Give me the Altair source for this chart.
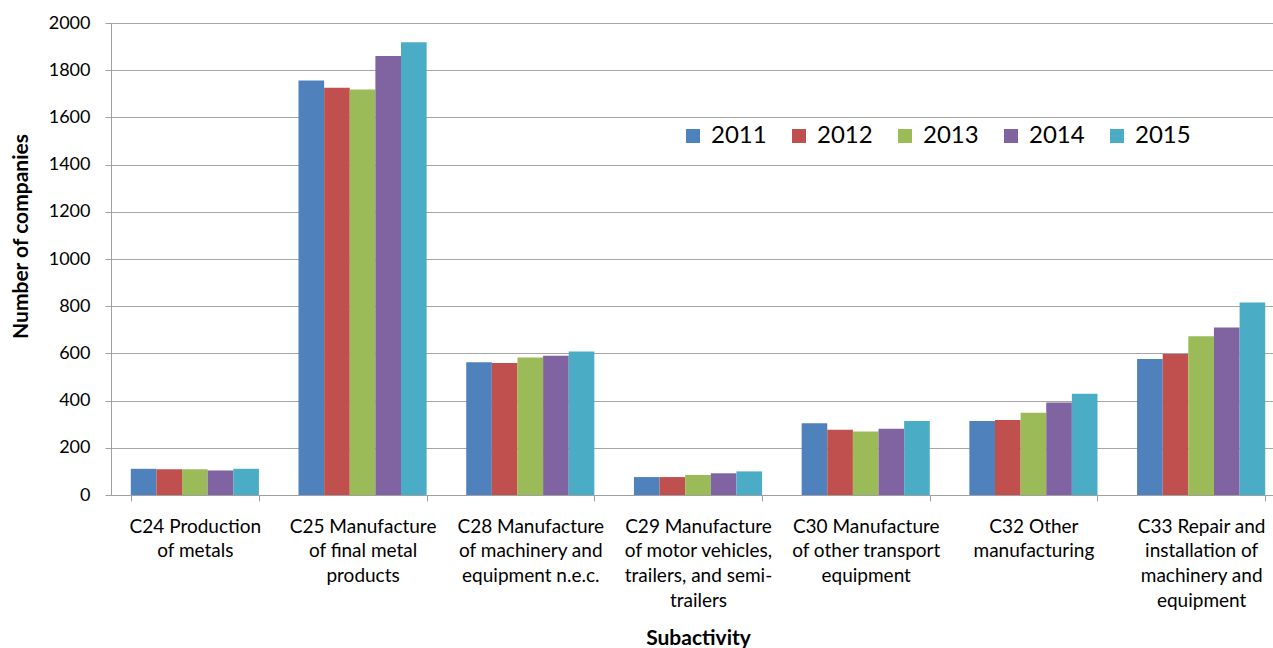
import altair as alt
import pandas as pd

categories = [
    "C24 Production|of metals",
    "C25 Manufacture|of final metal|products",
    "C28 Manufacture|of machinery and|equipment n.e.c.",
    "C29 Manufacture|of motor vehicles,|trailers, and semi-|trailers",
    "C30 Manufacture|of other transport|equipment",
    "C32 Other|manufacturing",
    "C33 Repair and|installation of|machinery and|equipment",
]
years = ["2011", "2012", "2013", "2014", "2015"]
v2011 = [111, 1756, 563, 76, 304, 314, 576]
v2012 = [109, 1726, 559, 76, 277, 318, 597]
v2013 = [109, 1718, 583, 85, 269, 348, 673]
v2014 = [104, 1860, 590, 92, 281, 392, 710]
v2015 = [111, 1918, 608, 100, 314, 429, 816]
colors = ["#4F81BD", "#C0504D", "#9BBB59", "#8064A2", "#4BACC6"]
y_ticks = list(range(0, 2001, 200))

series = [v2011, v2012, v2013, v2014, v2015]
rows = []
for yr, vals in zip(years, series):
    for cat, v in zip(categories, vals):
        rows.append({"Subactivity": cat, "Year": yr, "Value": v})
df = pd.DataFrame(rows)

FONT = "Lato"

chart = alt.Chart(df).mark_bar().encode(
    x=alt.X(
        "Subactivity:N",
        sort=categories,
        scale=alt.Scale(paddingInner=0.236, paddingOuter=0.118),
        axis=alt.Axis(
            title="Subactivity",
            labelExpr="split(datum.label, '|')",
            labelAngle=0,
            labelFontSize=19,
            labelLineHeight=24.7,
            labelFont=FONT,
            labelColor="#000000",
            labelPadding=16,
            labelLimit=300,
            tickBand="extent",
            tickSize=6,
            tickColor="#A0A0A0",
            domainColor="#A0A0A0",
            grid=False,
            titleFont=FONT,
            titleFontSize=21,
            titleFontWeight="bold",
            titleColor="#000000",
            titleX=587,
            titleY=149,
            titleAlign="center",
            titleBaseline="alphabetic",
        ),
    ),
    xOffset=alt.XOffset("Year:N", sort=years, scale=alt.Scale(paddingInner=0, paddingOuter=0)),
    y=alt.Y(
        "Value:Q",
        scale=alt.Scale(domain=[0, 2000], nice=False),
        axis=alt.Axis(
            title="Number of companies",
            values=y_ticks,
            format="d",
            labelFontSize=18,
            labelFont=FONT,
            labelColor="#000000",
            labelPadding=15,
            tickSize=6,
            tickColor="#A0A0A0",
            domainColor="#A0A0A0",
            gridColor="#A6A6A6",
            gridWidth=1,
            titleFont=FONT,
            titleFontSize=21,
            titleFontWeight="bold",
            titleColor="#000000",
            titleAngle=270,
            titleX=-90,
            titleY=213,
            titleAlign="center",
            titleBaseline="middle",
        ),
    ),
    color=alt.Color(
        "Year:N",
        sort=years,
        scale=alt.Scale(domain=years, range=colors),
        legend=alt.Legend(
            title=None,
            orient="none",
            direction="horizontal",
            legendX=570,
            legendY=101,
            symbolType="square",
            symbolSize=196,
            symbolStrokeWidth=0,
            symbolOpacity=1,
            labelFont=FONT,
            labelFontSize=24,
            labelColor="#000000",
            labelOffset=6,
            columnPadding=20,
        ),
    ),
).properties(
    width=1174,
    height=472,
    padding={"left": 111, "top": 23, "right": -12, "bottom": 153},
    autosize=alt.AutoSizeParams(type="none"),
).configure_view(stroke=None).configure(background="white")

chart.save("out.html", embed_options={"renderer": "svg", "actions": False})
